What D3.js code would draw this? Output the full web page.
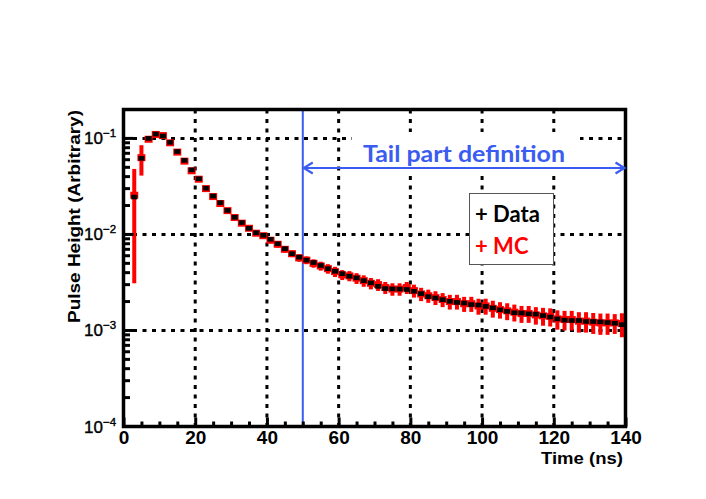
<!DOCTYPE html>
<html>
<head>
<meta charset="utf-8">
<script src="https://cdn.jsdelivr.net/npm/d3@7"></script>
<style>
  body { margin: 0; background: #fff; }
  svg { display: block; }
</style>
</head>
<body>
<svg id="main"></svg>
<script>
const width = 706;
const height = 499;

const frame = { left: 123.5, right: 625.5, top: 109.5, bottom: 426.5 };

// bin centres (ns), 2 ns bins
const timeBins = [3, 5, 7, 9, 11, 13, 15, 17, 19, 21, 23, 25, 27, 29, 31, 33, 35, 37, 39, 41,
    43, 45, 47, 49, 51, 53, 55, 57, 59, 61, 63, 65, 67, 69, 71, 73, 75, 77, 79, 81,
    83, 85, 87, 89, 91, 93, 95, 97, 99, 101, 103, 105, 107, 109, 111, 113, 115, 117, 119, 121,
    123, 125, 127, 129, 131, 133, 135, 137, 139];

const dataValues = [0.0245, 0.062, 0.100, 0.111, 0.106, 0.091, 0.073, 0.059, 0.047, 0.038,
    0.0303, 0.0251, 0.0214, 0.0178, 0.0151, 0.0133, 0.0116, 0.0104, 0.0098, 0.0089,
    0.0080, 0.0071, 0.0063, 0.0058, 0.0054, 0.0051, 0.00475, 0.0044, 0.00414, 0.0039,
    0.00367, 0.00353, 0.0033, 0.00313, 0.00288, 0.00273, 0.00271, 0.0027, 0.00267, 0.00256,
    0.00242, 0.00225, 0.00218, 0.00209, 0.00201, 0.00196, 0.00193, 0.00186, 0.00184, 0.00178,
    0.00172, 0.00164, 0.00158, 0.00153, 0.00152, 0.00149, 0.00148, 0.00143, 0.00138, 0.00132,
    0.00128, 0.00127, 0.00127, 0.00124, 0.00124, 0.00123, 0.00121, 0.00119, 0.00115];

const mcValues = [0.0256, 0.063, 0.098, 0.110, 0.107, 0.090, 0.072, 0.058, 0.046, 0.0376,
    0.0300, 0.0248, 0.0210, 0.0177, 0.0150, 0.0131, 0.0116, 0.0103, 0.0097, 0.0087,
    0.0079, 0.0070, 0.0063, 0.0057, 0.0054, 0.0050, 0.0047, 0.0044, 0.0041, 0.0038,
    0.0037, 0.0035, 0.0033, 0.0031, 0.0030, 0.0028, 0.0027, 0.0027, 0.0028, 0.0026,
    0.0024, 0.0023, 0.0022, 0.0021, 0.0020, 0.0020, 0.0019, 0.0019, 0.0018, 0.0018,
    0.0017, 0.00165, 0.0016, 0.00155, 0.0015, 0.0015, 0.00145, 0.00142, 0.0014, 0.00132,
    0.0013, 0.0013, 0.00125, 0.00125, 0.00122, 0.0012, 0.0012, 0.0012, 0.00118];

const mcErrors = [0.0225, 0.022, 0.004, 0.004, 0.004, 0.003, 0.0025, 0.002, 0.0016, 0.0013,
    0.0011, 0.0009, 0.0008, 0.0007, 0.0007, 0.0006, 0.0006, 0.0006, 0.0006, 0.0006,
    0.0006, 0.0005, 0.0005, 0.0005, 0.0005, 0.0005, 0.0005, 0.0005, 0.0005, 0.00045,
    0.00045, 0.00045, 0.00045, 0.00042, 0.00042, 0.0004, 0.0004, 0.0004, 0.0004, 0.0004,
    0.00038, 0.00036, 0.00036, 0.00035, 0.00035, 0.00035, 0.00034, 0.00034, 0.00034, 0.00034,
    0.00034, 0.00032, 0.00032, 0.00031, 0.0003, 0.0003, 0.0003, 0.0003, 0.0003, 0.0003,
    0.0003, 0.0003, 0.0003, 0.0003, 0.0003, 0.0003, 0.0003, 0.00028, 0.00033];

const xTicks = [0, 20, 40, 60, 80, 100, 120, 140];
const xGrid = [20, 40, 60, 80, 100, 120];
const yDecades = [1e-4, 1e-3, 1e-2, 1e-1];
const yExponents = ['\u22124', '\u22123', '\u22122', '\u22121'];
const yGrid = [1e-3, 1e-2, 1e-1];
const tailStart = 50;
const tailEnd = 140;

const blue = '#3a5cf0';
const red = '#ff0000';
const rootFont = '"Liberation Sans", Arial, Helvetica, sans-serif';
const labelFont = 'Lato, "Open Sans", sans-serif';

const svg = d3.select('svg#main')
    .attr('width', width)
    .attr('height', height);

const x = d3.scaleLinear().domain([0, 140]).range([frame.left, frame.right]);
const y = d3.scaleLog().domain([1e-4, 0.2]).range([frame.bottom, frame.top]);

// GRID -------------------------------------------
const grid = svg.append('g')
    .attr('stroke', '#000')
    .attr('stroke-width', 3)
    .attr('stroke-dasharray', '4 5.5');

grid.selectAll('.vgrid')
    .data(xGrid).enter()
    .append('line')
    .attr('x1', d => x(d)).attr('x2', d => x(d))
    .attr('y1', frame.top).attr('y2', frame.bottom);

grid.selectAll('.hgrid')
    .data(yGrid).enter()
    .append('line')
    .attr('x1', frame.left).attr('x2', frame.right)
    .attr('y1', d => y(d)).attr('y2', d => y(d));

// white patch behind the tail label (covers grid)
svg.append('rect')
    .attr('x', 352).attr('y', 132)
    .attr('width', 228).attr('height', 40)
    .attr('fill', '#fff');

// blue boundary line
svg.append('line')
    .attr('x1', x(tailStart)).attr('x2', x(tailStart))
    .attr('y1', frame.top).attr('y2', frame.bottom)
    .attr('stroke', blue)
    .attr('stroke-width', 2);

// DATA -------------------------------------------
const bins = timeBins.map((t, i) => ({
    t: t,
    data: dataValues[i],
    mc: mcValues[i],
    err: mcErrors[i],
}));

const mc = svg.append('g').attr('fill', red);
mc.selectAll('.mcbar')
    .data(bins).enter()
    .append('rect')
    .attr('x', d => x(d.t) - 2)
    .attr('width', 4)
    .attr('y', d => y(d.mc + d.err))
    .attr('height', d => y(Math.max(d.mc - d.err, 1e-4)) - y(d.mc + d.err));
mc.selectAll('.mcmark')
    .data(bins).enter()
    .append('rect')
    .attr('x', d => x(d.t) - 4)
    .attr('width', 8)
    .attr('y', d => y(d.mc) - 3.5)
    .attr('height', 7);

svg.append('g').attr('fill', '#000')
    .selectAll('.datamark')
    .data(bins).enter()
    .append('rect')
    .attr('x', d => x(d.t) - 3)
    .attr('width', 6)
    .attr('y', d => y(d.data) - 2.3)
    .attr('height', 4.6);

// FRAME & TICKS ----------------------------------
svg.append('rect')
    .attr('x', frame.left).attr('y', frame.top)
    .attr('width', frame.right - frame.left)
    .attr('height', frame.bottom - frame.top)
    .attr('fill', 'none')
    .attr('stroke', '#000')
    .attr('stroke-width', 3.5);

const xAxis = d3.axisBottom(x)
    .tickValues(d3.range(0, 141, 5))
    .tickSizeInner(-5)
    .tickSizeOuter(0)
    .tickPadding(4)
    .tickFormat(d => xTicks.includes(d) ? d : '');

const gx = svg.append('g')
    .attr('transform', `translate(0,${frame.bottom})`)
    .call(xAxis);
gx.select('.domain').remove();
gx.selectAll('.tick line')
    .attr('stroke', '#000')
    .attr('stroke-width', 3)
    .attr('y2', d => d % 20 === 0 ? -9 : -5);
gx.selectAll('.tick text')
    .attr('font-family', rootFont)
    .attr('font-size', 19)
    .attr('font-weight', 'bold')
    .attr('fill', '#000')
    .attr('dy', '0.72em');

const yMinor = [];
yDecades.forEach(dec => {
    for (let m = 1; m <= 9; m++) {
        if (m * dec <= 0.2 + 1e-9) yMinor.push(m * dec);
    }
});
yMinor.push(0.2);

svg.append('g')
    .selectAll('line')
    .data(yMinor).enter()
    .append('line')
    .attr('x1', frame.left)
    .attr('x2', d => yDecades.includes(d) ? frame.left + 10 : frame.left + 6.5)
    .attr('y1', d => y(d)).attr('y2', d => y(d))
    .attr('stroke', '#000')
    .attr('stroke-width', 3);

const yLabels = svg.append('g')
    .selectAll('text')
    .data(yDecades).enter()
    .append('text')
    .attr('x', 84)
    .attr('y', d => y(d) + 6)
    .attr('font-family', rootFont)
    .attr('font-size', 17)
    .attr('fill', '#000')
    .attr('stroke', '#000')
    .attr('stroke-width', 0.4);
yLabels.append('tspan').text('10');
yLabels.append('tspan')
    .attr('font-size', 11.5)
    .attr('dy', -7)
    .text((d, i) => yExponents[i]);

// axis titles
svg.append('text')
    .text('Time (ns)')
    .attr('x', 623)
    .attr('y', 464)
    .attr('text-anchor', 'end')
    .attr('font-family', rootFont)
    .attr('font-size', 17)
    .attr('font-weight', 'bold')
    .attr('textLength', 82)
    .attr('lengthAdjust', 'spacingAndGlyphs');

svg.append('text')
    .text('Pulse Height (Arbitrary)')
    .attr('transform', 'translate(80,216.5) rotate(-90)')
    .attr('text-anchor', 'middle')
    .attr('font-family', rootFont)
    .attr('font-size', 17)
    .attr('font-weight', 'bold')
    .attr('textLength', 213)
    .attr('lengthAdjust', 'spacingAndGlyphs');

// TAIL ANNOTATION --------------------------------
const arrowY = 168;
svg.append('line')
    .attr('x1', x(tailStart) + 1).attr('x2', x(tailEnd) - 1)
    .attr('y1', arrowY).attr('y2', arrowY)
    .attr('stroke', blue)
    .attr('stroke-width', 2.2);
[[x(tailStart) + 1, 1], [x(tailEnd) - 1, -1]].forEach(([px, dir]) => {
    svg.append('path')
        .attr('d', `M${px + dir * 9},${arrowY - 5.5} L${px},${arrowY} L${px + dir * 9},${arrowY + 5.5}`)
        .attr('fill', 'none')
        .attr('stroke', blue)
        .attr('stroke-width', 2.2);
});

svg.append('text')
    .text('Tail part definition')
    .attr('x', 363)
    .attr('y', 162)
    .attr('font-family', labelFont)
    .attr('font-size', 22)
    .attr('font-weight', 'bold')
    .attr('fill', blue)
    .attr('textLength', 202)
    .attr('lengthAdjust', 'spacingAndGlyphs');

// LEGEND -----------------------------------------
svg.append('rect')
    .attr('x', 469.5).attr('y', 193.5)
    .attr('width', 84).attr('height', 71)
    .attr('fill', '#fff')
    .attr('stroke', '#555')
    .attr('stroke-width', 1);

[['+ Data', '#000', 222], ['+ MC', red, 254]].forEach(([label, color, ty]) => {
    svg.append('text')
        .text(label)
        .attr('x', 475)
        .attr('y', ty)
        .attr('font-family', labelFont)
        .attr('font-size', 22)
        .attr('font-weight', 'bold')
        .attr('fill', color);
});
</script>
</body>
</html>
